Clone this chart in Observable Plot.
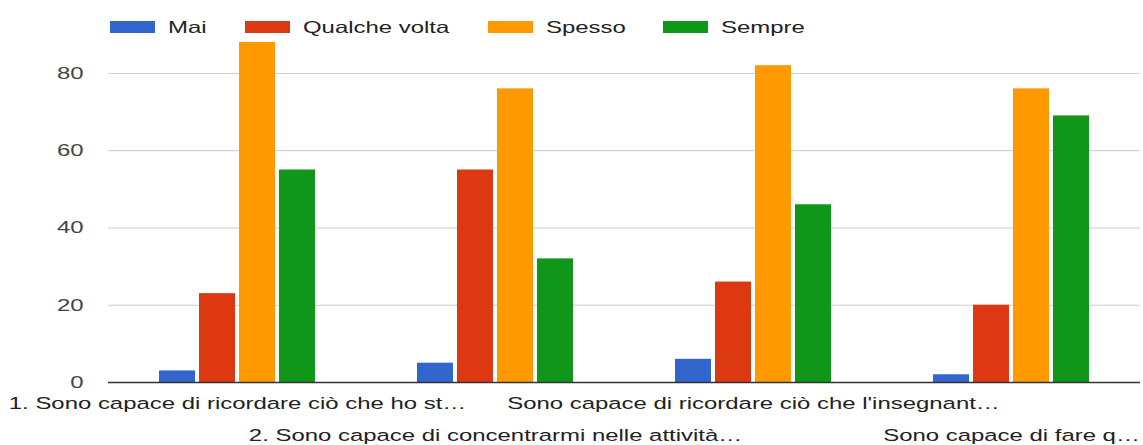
<!DOCTYPE html>
<html><head><meta charset="utf-8">
<script src="https://cdn.jsdelivr.net/npm/d3@7"></script>
<script src="https://cdn.jsdelivr.net/npm/@observablehq/plot@0.6"></script>
<style>
body{margin:0;background:#fff;font-family:"Liberation Sans",Arial,sans-serif;}
#legend{height:40px;box-sizing:border-box;padding:21px 0 0 110px;display:flex;align-items:flex-start;}
.item{display:flex;align-items:center;margin-right:38px;height:12px}
.sw{width:45px;height:12px;margin-right:13px;flex:none}
.lab{display:inline-block;transform-origin:left center;font-size:16.5px;color:#222;white-space:nowrap;line-height:12px}
</style></head>
<body><div id="legend"></div><div id="chart"></div>
<script>
const questions = [
  "1. Sono capace di ricordare ciò che ho st…",
  "2. Sono capace di concentrarmi nelle attività…",
  "Sono capace di ricordare ciò che l'insegnant…",
  "Sono capace di fare q…"
];
const series = ["Mai", "Qualche volta", "Spesso", "Sempre"];
const colors = ["#3366cc", "#dc3912", "#ff9900", "#109618"];
const mai = [3, 5, 6, 2];
const qualcheVolta = [23, 55, 26, 20];
const spesso = [88, 76, 82, 76];
const sempre = [55, 32, 46, 69];
const yTicks = [0, 20, 40, 60, 80];

const values = [mai, qualcheVolta, spesso, sempre];
const data = [];
series.forEach((s, si) => questions.forEach((q, qi) => data.push({question: q, series: s, value: values[si][qi]})));
const labels = questions.map((q, i) => ({question: q, row: i % 2}));
const K = 1.45;

// legend
const legend = document.getElementById("legend");
series.forEach((s, i) => {
  const item = document.createElement("div"); item.className = "item";
  const sw = document.createElement("div"); sw.className = "sw"; sw.style.background = colors[i];
  const lab = document.createElement("span"); lab.className = "lab"; lab.textContent = s;
  item.appendChild(sw); item.appendChild(lab); legend.appendChild(item);
  const w = lab.offsetWidth;
  lab.style.width = (w * K) + "px";
  lab.style.transform = `scaleX(${K})`;
});

const chart = Plot.plot({
  width: 1143, height: 405,
  marginLeft: 108, marginRight: 3, marginTop: 2, marginBottom: 63,
  style: {fontFamily: '"Liberation Sans", Arial, sans-serif', fontSize: "16.5px", color: "#444", background: "#fff"},
  fx: {domain: questions, padding: 0, axis: null},
  x: {domain: series, paddingInner: 0.09, paddingOuter: 1.217, axis: null},
  y: {domain: [0, 88], axis: null},
  color: {domain: series, range: colors},
  marks: [
    Plot.gridY(yTicks.filter(d => d > 0), {stroke: "#cccccc", strokeOpacity: 1}),
    Plot.axisY(yTicks, {tickSize: 0, tickPadding: 25, label: null, fill: "#444"}),
    Plot.barY(data, {fx: "question", x: "series", y: "value", fill: "series"}),
    Plot.ruleY([0], {stroke: "#333", strokeWidth: 1.5}),
    Plot.text(labels.filter(d => d.row === 0), {fx: "question", text: "question", frameAnchor: "bottom", dy: 21, lineAnchor: "middle", fill: "#222"}),
    Plot.text(labels.filter(d => d.row === 1), {fx: "question", text: "question", frameAnchor: "bottom", dy: 53, lineAnchor: "middle", fill: "#222"})
  ]
});
document.getElementById("chart").appendChild(chart);

// horizontal stretch of all texts, as in the reference
chart.querySelectorAll("text").forEach(t => {
  const tr = t.getAttribute("transform");
  const x = t.getAttribute("x");
  if (x != null) {
    t.setAttribute("x", 0);
    t.setAttribute("transform", (tr ? tr + " " : "") + `translate(${x},0) scale(${K},1)`);
  } else {
    t.setAttribute("transform", (tr ? tr + " " : "") + `scale(${K},1)`);
  }
});
</script>
</body></html>
